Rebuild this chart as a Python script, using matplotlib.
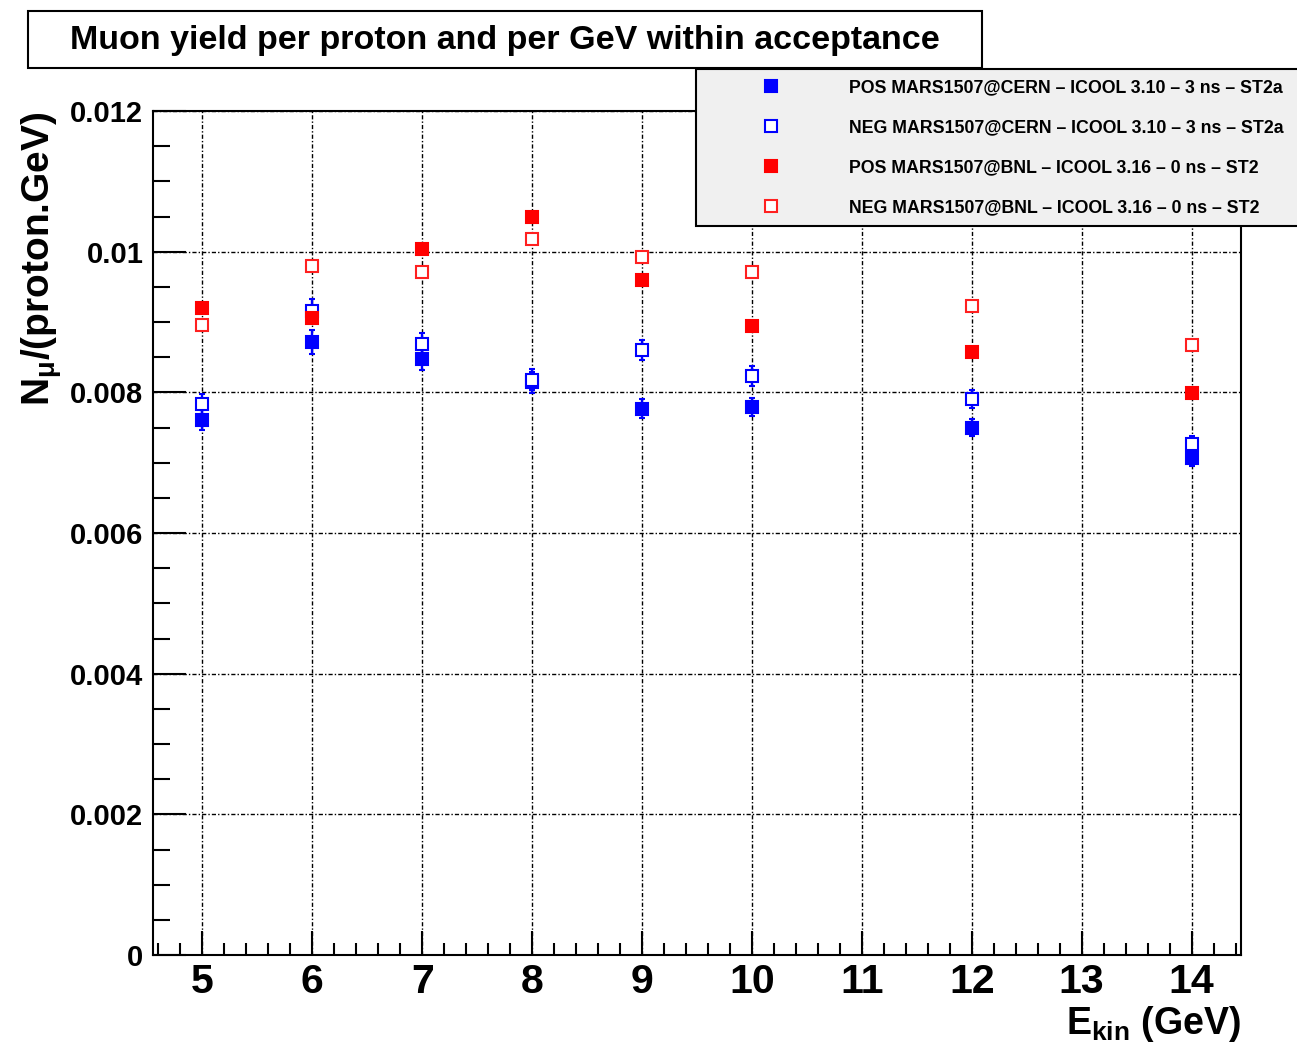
import matplotlib
matplotlib.use('Agg')
import matplotlib.pyplot as plt
from matplotlib.lines import Line2D
from matplotlib.patches import Rectangle
from matplotlib.ticker import MultipleLocator, FuncFormatter

plt.rcParams['font.family'] = ['Liberation Sans', 'DejaVu Sans']
plt.rcParams['font.weight'] = 'bold'
plt.rcParams['mathtext.fontset'] = 'custom'
plt.rcParams['mathtext.rm'] = 'Liberation Sans:bold'
plt.rcParams['mathtext.bf'] = 'Liberation Sans:bold'
plt.rcParams['mathtext.it'] = 'Liberation Sans:italic'
plt.rcParams['mathtext.default'] = 'regular'

# kinetic energy of the proton beam (GeV)
energy = [5, 6, 7, 8, 9, 10, 12, 14]

# muon yield per proton and per GeV
pos_cern = [0.00761, 0.00871, 0.00847, 0.00814, 0.00777, 0.00779, 0.00750, 0.00707]
pos_cern_err = [0.00014, 0.00017, 0.00015, 0.00015, 0.00013, 0.00013, 0.00012, 0.00012]
neg_cern = [0.00783, 0.00916, 0.00869, 0.00818, 0.00860, 0.00823, 0.00791, 0.00726]
neg_cern_err = [0.00014, 0.00016, 0.00016, 0.00015, 0.00014, 0.00014, 0.00013, 0.00012]
pos_bnl = [0.00920, 0.00905, 0.01004, 0.01050, 0.00960, 0.00895, 0.00857, 0.00799]
neg_bnl = [0.00896, 0.00979, 0.00971, 0.01018, 0.00992, 0.00971, 0.00923, 0.00868]

labels = ['POS MARS1507@CERN \u2013 ICOOL 3.10 \u2013 3 ns \u2013 ST2a',
          'NEG MARS1507@CERN \u2013 ICOOL 3.10 \u2013 3 ns \u2013 ST2a',
          'POS MARS1507@BNL \u2013 ICOOL 3.16 \u2013 0 ns \u2013 ST2',
          'NEG MARS1507@BNL \u2013 ICOOL 3.16 \u2013 0 ns \u2013 ST2']

styles = [dict(color='#0000ff', mfc='#0000ff', mec='#0000ff'),
          dict(color='#0000ff', mfc='white', mec='#0000ff'),
          dict(color='#ff0000', mfc='#ff0000', mec='#ff0000'),
          dict(color='#ff0000', mfc='white', mec='#ff2020')]

fig = plt.figure(figsize=(12.97, 10.52), dpi=100)
ax = fig.add_axes([153 / 1297, 1 - 955 / 1052, (1241 - 153) / 1297, (955 - 111) / 1052])

series = [(pos_cern, pos_cern_err), (neg_cern, neg_cern_err), (pos_bnl, None), (neg_bnl, None)]
for (vals, err), st in zip(series, styles):
    ax.errorbar(energy, vals, yerr=err, fmt='s', ms=8.7, mew=1.5, elinewidth=1.7,
                capsize=2.5, capthick=1.7, zorder=3, **st)

ax.set_xlim(4.55, 14.45)
ax.set_ylim(0, 0.012)
ax.xaxis.set_major_locator(MultipleLocator(1))
ax.xaxis.set_minor_locator(MultipleLocator(0.2))
ax.yaxis.set_major_locator(MultipleLocator(0.002))
ax.yaxis.set_minor_locator(MultipleLocator(0.0005))
ax.yaxis.set_major_formatter(FuncFormatter(lambda v, p: f'{round(v, 4):g}'))

ax.grid(True, which='major', color='black', lw=1, ls=(0, (3, 1.5, 1, 1.5)))
ax.set_axisbelow(True)
for sp in ax.spines.values():
    sp.set_linewidth(1.5)

ax.tick_params(axis='both', which='both', direction='in', top=False, right=False, width=1.5)
ax.tick_params(axis='y', which='major', length=24, labelsize=21, pad=7)
ax.tick_params(axis='y', which='minor', length=12)
ax.tick_params(axis='x', which='major', length=17, labelsize=29.5, pad=6)
ax.tick_params(axis='x', which='minor', length=8.5)

ax.set_ylabel(r'N$_{\mu}$/(proton.GeV)', fontsize=28, fontweight='bold', loc='top')
ax.yaxis.set_label_coords(-0.082, 1.0)
ax.set_xlabel(r'E$_{kin}$ (GeV)', fontsize=27, fontweight='bold', loc='right')
ax.xaxis.set_label_coords(1.0, -0.058)

# title box
fig.add_artist(Rectangle((28 / 1297, 1 - 68 / 1052), (982 - 28) / 1297, 57 / 1052,
                         transform=fig.transFigure, facecolor='white', edgecolor='black', lw=1.5))
fig.text(505 / 1297, 1 - 40 / 1052, 'Muon yield per proton and per GeV within acceptance',
         ha='center', va='center', fontsize=24.5, fontweight='bold')

handles = [Line2D([], [], ls='none', marker='s', ms=8.5, mew=1.5, **st) for st in styles]
leg = fig.legend(handles, labels, loc='upper left',
                 bbox_to_anchor=(696 / 1297, 1 - 69 / 1052, 0.5, 0), mode='expand',
                 fontsize=12.8, borderpad=0.57, handlelength=7.35, handletextpad=0.66,
                 labelspacing=1.29, fancybox=False, framealpha=1, borderaxespad=0)
leg.get_frame().set_facecolor('#f0f0f0')
leg.get_frame().set_edgecolor('black')
leg.get_frame().set_linewidth(1.5)

fig.savefig('out.png', dpi=100)
